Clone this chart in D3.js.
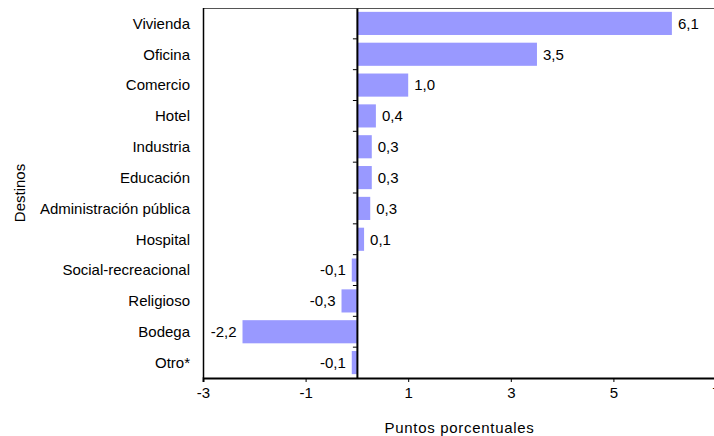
<!DOCTYPE html>
<html>
<head>
<meta charset="utf-8">
<script src="https://cdn.jsdelivr.net/npm/d3@7"></script>
<style>
  html, body { margin: 0; padding: 0; background: #fff; }
  svg { display: block; font-family: "Liberation Sans", Arial, sans-serif; }
</style>
</head>
<body>
<svg id="chart" width="714" height="436"></svg>
<script>
const categories = ["Vivienda", "Oficina", "Comercio", "Hotel", "Industria", "Educación",
  "Administración pública", "Hospital", "Social-recreacional", "Religioso", "Bodega", "Otro*"];
const values = [6.14, 3.51, 1.0, 0.37, 0.29, 0.29, 0.26, 0.14, -0.1, -0.3, -2.23, -0.1];
const valueLabels = ["6,1", "3,5", "1,0", "0,4", "0,3", "0,3", "0,3", "0,1", "-0,1", "-0,3", "-2,2", "-0,1"];
const xTicks = [-3, -1, 1, 3, 5, 7];
const xTitle = "Puntos porcentuales";
const yTitle = "Destinos";

(function () {
const svg = d3.select("#chart");
const pl = 203, pr = 716, pt = 8, pb = 378;
const fs = 15;

const x = d3.scaleLinear().domain([-3, 7]).range([pl, pr]);
const y = d3.scaleBand().domain(categories).range([pt, pb]).paddingInner(0.25).paddingOuter(0.125);

// bars
svg.append("g").selectAll("rect").data(values).join("rect")
  .attr("x", d => x(Math.min(0, d)))
  .attr("y", (d, i) => y(categories[i]))
  .attr("width", d => Math.abs(x(d) - x(0)))
  .attr("height", y.bandwidth())
  .attr("fill", "#9999FF");

// frame: top
svg.append("line").attr("x1", pl).attr("x2", 714).attr("y1", pt + 0.5).attr("y2", pt + 0.5)
  .attr("stroke", "#555").attr("stroke-width", 1);
// left
svg.append("line").attr("x1", pl + 0.5).attr("x2", pl + 0.5).attr("y1", pt).attr("y2", pb)
  .attr("stroke", "#000").attr("stroke-width", 1.5);

// x axis
const xAxis = d3.axisBottom(x).tickValues(xTicks).tickSize(4).tickPadding(5)
  .tickFormat(d => String(d));
const gx = svg.append("g").attr("transform", `translate(0,${pb})`).call(xAxis);
gx.select(".domain").attr("stroke", "#000").attr("stroke-width", 2);
gx.selectAll(".tick line").attr("stroke", "#000");
gx.selectAll("text").attr("font-size", fs).attr("fill", "#000")
  .attr("font-family", "Liberation Sans, Arial, sans-serif");

// zero axis with category ticks
const step = y.step();
const yAxis = d3.axisLeft(y).tickSize(0).tickFormat("");
const gy = svg.append("g").attr("transform", `translate(${x(0)},0)`).call(yAxis);
gy.select(".domain").attr("stroke", "#000").attr("stroke-width", 2);
const boundaries = categories.slice(1).map(c => y(c) - y.paddingInner() * step / 2);
gy.selectAll(".sep").data(boundaries).join("line").attr("class", "sep")
  .attr("x1", -4).attr("x2", 0).attr("y1", d => d).attr("y2", d => d)
  .attr("stroke", "#000").attr("stroke-width", 1);

// category labels
svg.append("g").selectAll("text").data(categories).join("text")
  .attr("x", 190)
  .attr("y", d => y(d) + y.bandwidth() / 2)
  .attr("dy", "0.35em")
  .attr("text-anchor", "end")
  .attr("font-size", fs)
  .attr("fill", "#000")
  .text(d => d);

// value labels
svg.append("g").selectAll("text").data(values).join("text")
  .attr("x", d => d >= 0 ? x(d) + 6 : x(d) - 6)
  .attr("y", (d, i) => y(categories[i]) + y.bandwidth() / 2)
  .attr("dy", "0.35em")
  .attr("text-anchor", d => d >= 0 ? "start" : "end")
  .attr("font-size", fs)
  .attr("fill", "#000")
  .text((d, i) => valueLabels[i]);

// titles
svg.append("text").attr("x", (pl + pr) / 2).attr("y", 433)
  .attr("text-anchor", "middle").attr("font-size", fs).attr("fill", "#000")
  .attr("letter-spacing", "0.7px")
  .text(xTitle);
svg.append("text").attr("transform", `translate(25,${(pt + pb) / 2}) rotate(-90)`)
  .attr("text-anchor", "middle").attr("font-size", fs).attr("fill", "#000")
  .text(yTitle);
})();
</script>
</body>
</html>
